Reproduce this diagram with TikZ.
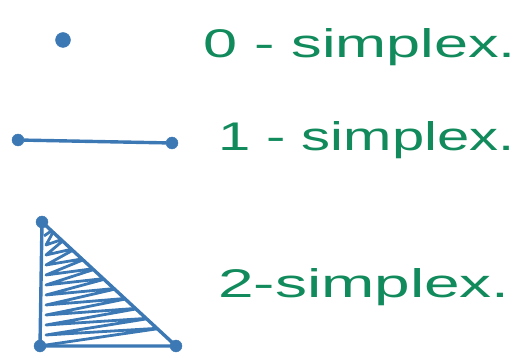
\documentclass[tikz,border=0pt]{standalone}
\usepackage{fontspec}
\setmainfont{Liberation Sans}
\definecolor{inkblue}{HTML}{3B78B4}
\definecolor{inkgreen}{HTML}{118A5C}
\begin{document}
\begin{tikzpicture}[x=1pt,y=-1pt,
  stroke/.style={draw=inkblue,line width=3.4pt,line cap=round,line join=round},
  blob/.style={circle,fill=inkblue,draw=inkblue,inner sep=0pt,minimum size=#1},
  label/.style={text=inkgreen,anchor=base west,inner sep=0pt,font=\fontsize{40}{48}\selectfont}]
\useasboundingbox (0,0) rectangle (520,358);
% 0-simplex
\node[blob=15pt] (p0) at (63,40) {};
\node[label] (t0) at (203,58) {\scalebox{1.53}[1]{0 - simplex.}};
% 1-simplex
\node[blob=12pt] (a) at (18,140) {};
\node[blob=12pt] (b) at (172,143) {};
\draw[stroke] (a) -- (b);
\node[label] (t1) at (218,151) {\scalebox{1.45}[1]{1 - simplex.}};
% 2-simplex
\coordinate (v1) at (42,222);
\coordinate (v2) at (40,346);
\coordinate (v3) at (176,346);
\begin{scope}
  \clip (v1) -- (v2) -- (v3) -- cycle;
  \draw[draw=inkblue,line width=2.8pt,line join=round]
    (44,236) \foreach \y in {242,252,...,342} {
      -- ({42+(\y-222)*133/124-8},{\y-14}) -- (46,\y+3)
    };
\end{scope}
\draw[stroke] (v1) -- (v2) -- (v3) -- cycle;
\node[blob=12pt] (c1) at (v1) {};
\node[blob=12pt] (c2) at (v2) {};
\node[blob=12pt] (c3) at (v3) {};
\node[label] (t2) at (218,298) {\scalebox{1.6}[1]{2-simplex.}};
\end{tikzpicture}
\end{document}
